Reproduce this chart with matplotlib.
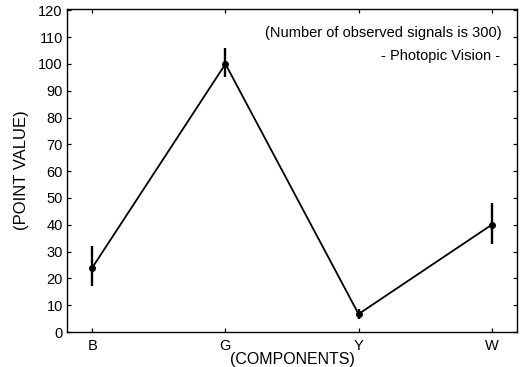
import matplotlib
matplotlib.use("Agg")
import matplotlib.pyplot as plt

components = ["B", "G", "Y", "W"]
point_values = [24, 100, 6.7, 40]
err_low = [17.2, 95, 5, 33]
err_high = [32, 106, 8.5, 48]

plt.rcParams['font.family'] = ['Liberation Sans', 'DejaVu Sans']

fig = plt.figure(figsize=(5.26, 3.67), dpi=100)
ax = fig.add_axes([67/526, 1 - 332/367, (517-67)/526, (332-9)/367])

x = list(range(len(components)))
lower = [v - lo for v, lo in zip(point_values, err_low)]
upper = [hi - v for v, hi in zip(point_values, err_high)]

ax.plot(x, point_values, color="black", lw=1.3, zorder=3)
ax.errorbar(x, point_values, yerr=[lower, upper], fmt="o", color="black",
            ms=4, elinewidth=1.7, capsize=0, zorder=4)

ax.set_xlim(-0.19, 3.19)
ax.set_ylim(0, 120.5)
ax.set_yticks(range(0, 121, 10))
ax.set_xticks(x)
ax.set_xticklabels(components)

ax.tick_params(axis="both", direction="in", length=3, width=0.9,
               labelsize=10.5, colors="black", top=True, right=True)
ax.tick_params(axis="y", pad=3)
ax.tick_params(axis="x", pad=5)
for s in ax.spines.values():
    s.set_linewidth(1.0)

ax.set_ylabel("(POINT VALUE)", fontsize=12)
ax.yaxis.set_label_coords(-0.085, 0.5)
ax.set_xlabel("(COMPONENTS)", fontsize=11.5)
ax.xaxis.set_label_coords(0.5, -0.062)

ax.text(0.965, 0.925, "(Number of observed signals is 300)", transform=ax.transAxes,
        ha="right", va="center", fontsize=10.5)
ax.text(0.962, 0.855, "- Photopic Vision -", transform=ax.transAxes,
        ha="right", va="center", fontsize=10.5)

fig.savefig("out.png", dpi=100)
